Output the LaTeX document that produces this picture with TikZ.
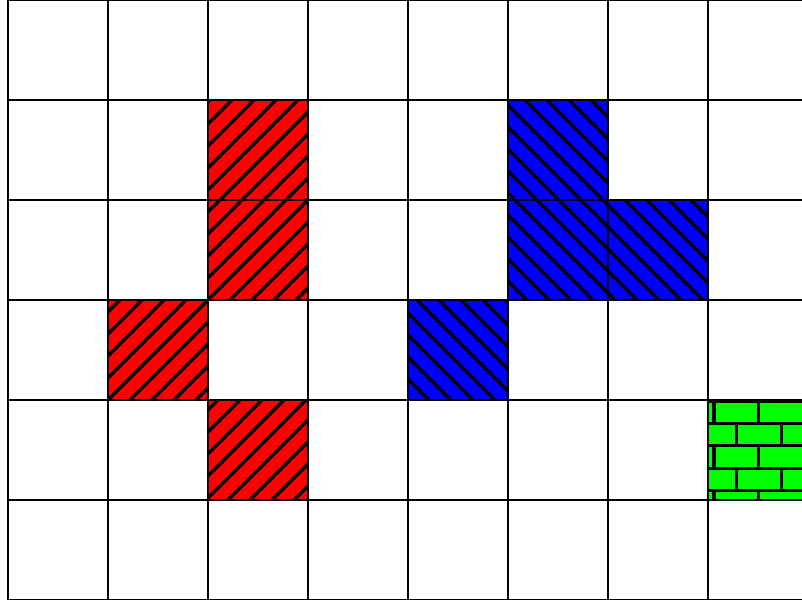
\documentclass[tikz,border=0pt]{standalone}
\definecolor{hred}{RGB}{255,0,0}
\definecolor{hblue}{RGB}{0,0,255}
\definecolor{hgreen}{RGB}{0,255,0}
\tikzset{
  gridline/.style={draw=black, line width=0.4pt},
  hatchline/.style={draw=black, line width=0.95pt},
  cellborder/.style={draw=black, line width=0.8pt},
}
\newcommand{\redcell}[2]{%
  \begin{scope}
    \clip (#1,#2) rectangle ++(100,100);
    \fill[hred] (#1,#2) rectangle ++(100,100);
    \foreach \k in {0,...,64}{
      \pgfmathsetmacro{\cc}{2+22*\k}
      \draw[hatchline] (\cc-#2-110,#2+110) -- (\cc-#2+10,#2-10);
    }
  \end{scope}
  \draw[cellborder] (#1,#2) rectangle ++(100,100);
}
\newcommand{\bluecell}[2]{%
  \begin{scope}
    \clip (#1,#2) rectangle ++(100,100);
    \fill[hblue] (#1,#2) rectangle ++(100,100);
    \foreach \k in {0,...,65}{
      \pgfmathsetmacro{\cc}{-609+22*\k}
      \draw[hatchline] (\cc+#2-10,#2-10) -- (\cc+#2+110,#2+110);
    }
  \end{scope}
  \draw[cellborder] (#1,#2) rectangle ++(100,100);
}
\begin{document}
\begin{tikzpicture}[x=0.01cm,y=-0.01cm]
  \useasboundingbox (0,0) rectangle (802,600);
  \fill[white] (0,0) rectangle (802,600);
  % grid
  \foreach \i in {0,...,8}{
    \draw[gridline] (8+100*\i,0) -- (8+100*\i,600);
  }
  \foreach \yy in {0.7,100,200,300,400,500,599.3}{
    \draw[gridline] (8,\yy) -- (820,\yy);
  }
  % red cells
  \redcell{208}{100}
  \redcell{208}{200}
  \redcell{108}{300}
  \redcell{208}{400}
  % blue cells
  \bluecell{508}{100}
  \bluecell{508}{200}
  \bluecell{608}{200}
  \bluecell{408}{300}
  % green brick cell
  \begin{scope}
    \clip (708,400) rectangle ++(100,100);
    \fill[hgreen] (708,400) rectangle ++(100,100);
    \foreach \r in {0,...,4}{
      \pgfmathsetmacro{\ya}{401+22.4*\r}
      \pgfmathsetmacro{\yb}{\ya+22.4}
      \pgfmathsetmacro{\off}{mod(\r,2)*22.4}
      \draw[hatchline] (700,\ya) -- (820,\ya);
      \foreach \v in {0,1,2}{
        \draw[hatchline] (714+\off+44.8*\v,\ya) -- (714+\off+44.8*\v,\yb);
      }
    }
  \end{scope}
  \draw[cellborder] (708,400) rectangle ++(100,100);
\end{tikzpicture}
\end{document}
